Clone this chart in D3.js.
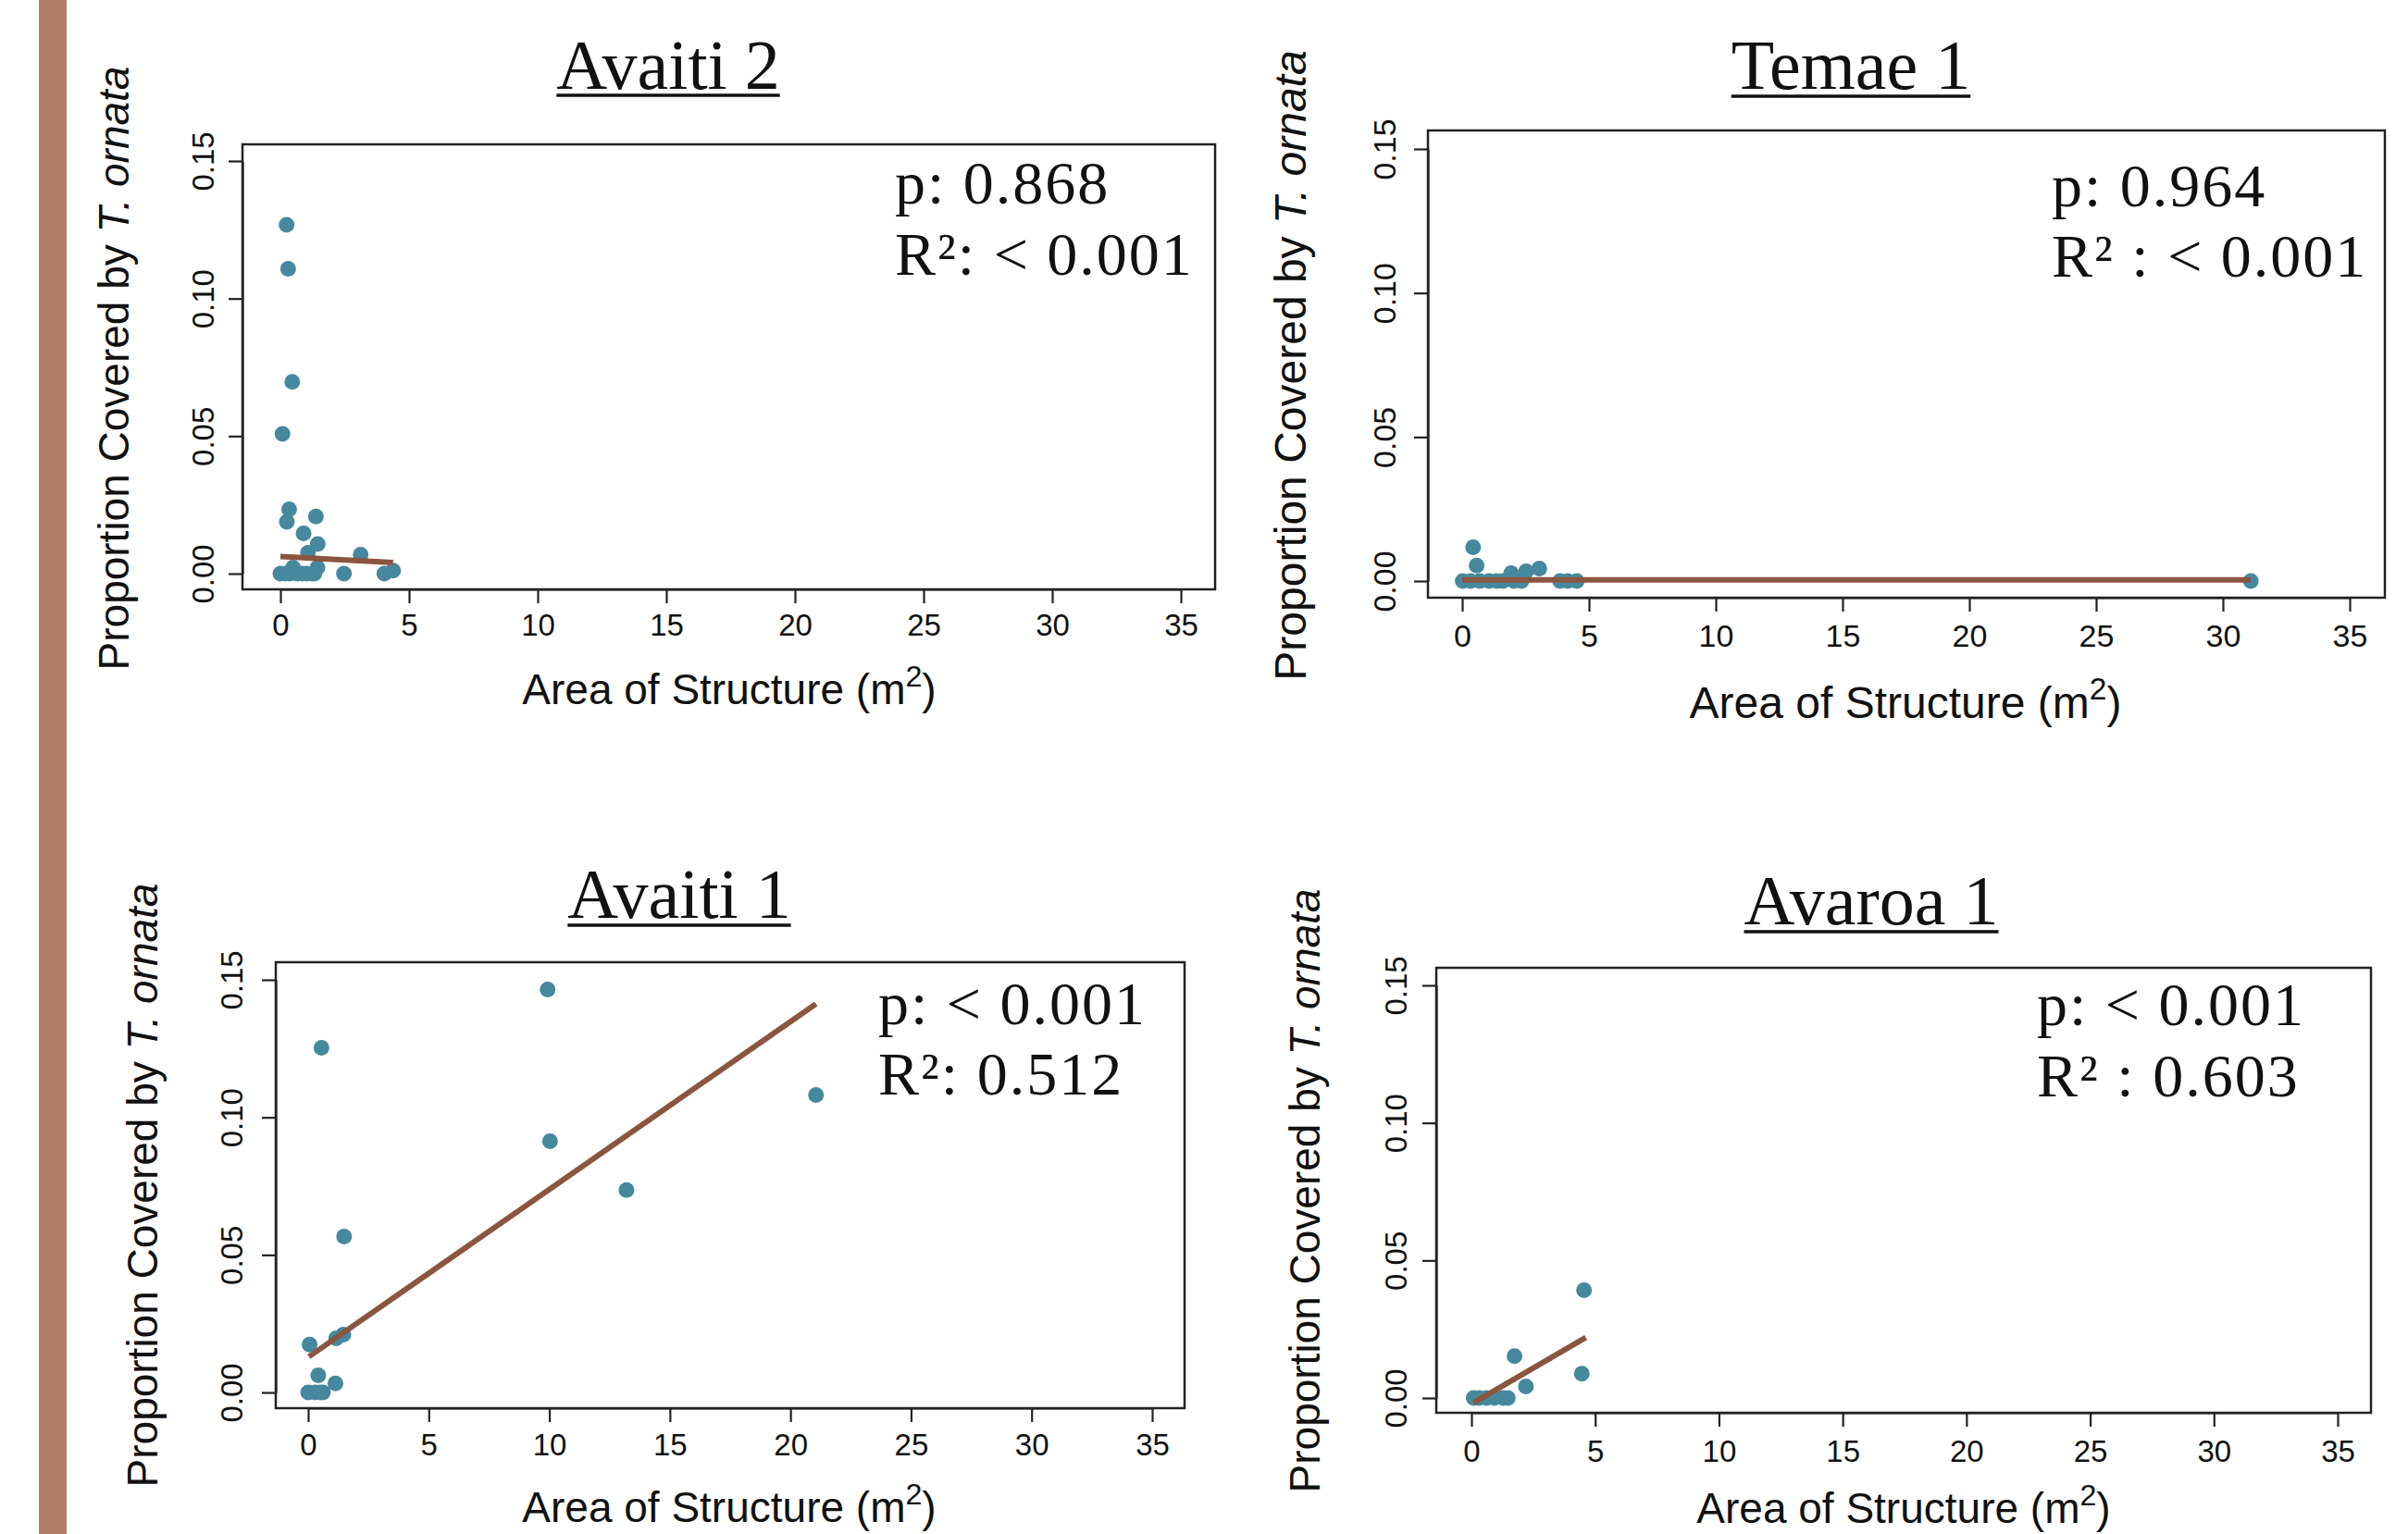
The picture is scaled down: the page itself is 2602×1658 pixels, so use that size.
<!DOCTYPE html>
<html>
<head>
<meta charset="utf-8">
<script src="https://cdn.jsdelivr.net/npm/d3@7"></script>
<style>
    body { margin: 0; background: #fff; }
    svg { display: block; }
    .tick text { font-family: "Liberation Sans", Arial, sans-serif; fill: #111; }
</style>
</head>
<body>
<div id="chart"></div>
<script>
// site names, in drawing order
var sites = ["Avaiti 2", "Temae 1", "Avaiti 1", "Avaroa 1"];

// [area m2, proportion covered]
var avaiti2Points = [
    [0.24, 0.1268], [0.30, 0.1108], [0.46, 0.0697], [0.08, 0.0508], [0.34, 0.0234],
    [0.25, 0.0188], [1.38, 0.0208], [0.90, 0.0146], [1.45, 0.0108], [1.07, 0.0076],
    [3.12, 0.0069], [0.49, 0.0022], [1.44, 0.0022], [4.38, 0.0011], [4.04, 0],
    [2.47, 0], [0, 0], [0.18, 0], [0.36, 0], [0.66, 0], [0.84, 0], [1.02, 0],
    [1.22, 0], [1.32, 0]
];
var temae1Points = [
    [0.43, 0.0117], [0.57, 0.0054], [1.93, 0.0027], [2.52, 0.0034], [3.04, 0.0043],
    [0.02, 0], [0.33, 0], [0.69, 0], [1.06, 0], [1.36, 0], [1.61, 0], [2.04, 0],
    [2.34, 0], [3.86, 0], [4.16, 0], [4.52, 0], [31.1, 0]
];
var avaiti1Points = [
    [9.93, 0.1465], [0.55, 0.1253], [21.06, 0.1081], [10.03, 0.0913], [13.2, 0.0736],
    [1.49, 0.0567], [0.06, 0.0174], [1.16, 0.0197], [1.46, 0.0210], [0.42, 0.0062],
    [1.13, 0.0033], [0, 0], [0.29, 0], [0.5, 0], [0.61, 0]
];
var avaroa1Points = [
    [4.55, 0.0392], [1.74, 0.0152], [4.46, 0.0088], [2.2, 0.0042], [0.09, 0],
    [0.31, 0], [0.61, 0], [0.92, 0], [1.28, 0], [1.47, 0]
];

// fitted lines: [from x, to x, intercept, slope]
var avaiti2Fit = [0, 4.38, 0.0062, -0.0005];
var temae1Fit = [0, 31.1, 0.0004, 0];
var avaiti1Fit = [0.03, 21.06, 0.0128, 0.0061];
var avaroa1Fit = [0.09, 4.62, -0.0022, 0.00523];

// p and R2 labels
var pLabels = ["p: 0.868", "p: 0.964", "p: < 0.001", "p: < 0.001"];
var r2Labels = ["R\u00b2: < 0.001", "R\u00b2 : < 0.001", "R\u00b2: 0.512", "R\u00b2 : 0.603"];

var xTicks = [0, 5, 10, 15, 20, 25, 30, 35];
var yTicks = [0, 0.05, 0.10, 0.15];
var yTickLabels = ["0.00", "0.05", "0.10", "0.15"];

var allPoints = [avaiti2Points, temae1Points, avaiti1Points, avaroa1Points];
var allFits = [avaiti2Fit, temae1Fit, avaiti1Fit, avaroa1Fit];

var width = 2602;
var height = 1658;
var pointColor = "#46889d";
var lineColor = "#8a5640";
var barColor = "#b07d67";

// where each panel sits on the page
var layout = [
    { box: [262, 156, 1313, 637], x0: 303, x35: 1276, y0: 620, y15: 174,
      titleX: 722, titleY: 96, ulY: 103, statX: 967, pY: 220, rY: 297,
      yLabX: 231, xLabY: 687, xTitleX: 788, xTitleY: 761, yTitleX: 139, yTitleY: 398, axFont: 46, tkFont: 33 },
    { box: [1543, 141, 2577, 646], x0: 1580, x35: 2539, y0: 628, y15: 161,
      titleX: 2000, titleY: 96, ulY: 104, statX: 2217, pY: 223, rY: 299,
      yLabX: 1508, xLabY: 699, xTitleX: 2059, xTitleY: 776, yTitleX: 1411, yTitleY: 395, axFont: 48, tkFont: 34 },
    { box: [298, 1040, 1280, 1522], x0: 333, x35: 1245, y0: 1505, y15: 1059,
      titleX: 734, titleY: 992, ulY: 1000, statX: 949, pY: 1107, rY: 1183,
      yLabX: 262, xLabY: 1573, xTitleX: 788, xTitleY: 1645, yTitleX: 170, yTitleY: 1281, axFont: 46, tkFont: 33 },
    { box: [1552, 1046, 2562, 1527], x0: 1590, x35: 2526, y0: 1511, y15: 1065,
      titleX: 2022, titleY: 999, ulY: 1007, statX: 2201, pY: 1108, rY: 1185,
      yLabX: 1520, xLabY: 1580, xTitleX: 2057, xTitleY: 1646, yTitleX: 1426, yTitleY: 1287, axFont: 46, tkFont: 33 }
];

var svg = d3.select("#chart").append("svg")
    .attr("width", width)
    .attr("height", height);

svg.append("rect")
    .attr("width", width)
    .attr("height", height)
    .attr("fill", "#fff");

// slide accent bar on the left
svg.append("rect")
    .attr("x", 42)
    .attr("y", 0)
    .attr("width", 30)
    .attr("height", height)
    .attr("fill", barColor);

var drawPanel = function(i) {
    var L = layout[i];
    var g = svg.append("g").attr("class", "panel");

    var x = d3.scaleLinear().domain([0, 35]).range([L.x0, L.x35]);
    var y = d3.scaleLinear().domain([0, 0.15]).range([L.y0, L.y15]);

    // title, underlined
    var title = g.append("text")
        .attr("x", L.titleX)
        .attr("y", L.titleY)
        .attr("text-anchor", "middle")
        .style("font-family", "'Liberation Serif', 'Times New Roman', serif")
        .style("font-size", "76px")
        .attr("fill", "#111")
        .text(sites[i]);
    var bb = title.node().getBBox();
    g.append("line")
        .attr("x1", bb.x)
        .attr("x2", bb.x + bb.width)
        .attr("y1", L.ulY)
        .attr("y2", L.ulY)
        .attr("stroke", "#111")
        .attr("stroke-width", 3.5);

    // axes
    var xAxis = g.append("g")
        .attr("transform", "translate(0," + L.box[3] + ")")
        .call(d3.axisBottom(x).tickValues(xTicks).tickSize(15).tickSizeOuter(0));
    xAxis.selectAll("text")
        .attr("y", L.xLabY - L.box[3])
        .attr("dy", 0)
        .style("font-size", L.tkFont + "px");

    var yAxis = g.append("g")
        .attr("transform", "translate(" + L.box[0] + ",0)")
        .call(d3.axisLeft(y).tickValues(yTicks).tickSize(15).tickSizeOuter(0)
            .tickFormat(function(d, k) { return yTickLabels[k]; }));
    yAxis.selectAll("text")
        .attr("x", 0)
        .attr("dy", 0)
        .attr("text-anchor", "middle")
        .attr("transform", "translate(" + (L.yLabX - L.box[0]) + ",0) rotate(-90)")
        .style("font-size", L.tkFont + "px");

    [xAxis, yAxis].forEach(function(a) {
        a.selectAll("line, path").attr("stroke", "#222").attr("stroke-width", 2.2);
    });

    // plot box
    g.append("rect")
        .attr("x", L.box[0])
        .attr("y", L.box[1])
        .attr("width", L.box[2] - L.box[0])
        .attr("height", L.box[3] - L.box[1])
        .attr("fill", "none")
        .attr("stroke", "#222")
        .attr("stroke-width", 2.5);

    // axis titles
    var xt = g.append("text")
        .attr("x", L.xTitleX)
        .attr("y", L.xTitleY)
        .attr("text-anchor", "middle")
        .style("font-family", "'Liberation Sans', Arial, sans-serif")
        .style("font-size", L.axFont + "px")
        .attr("fill", "#111");
    xt.append("tspan").text("Area of Structure (m");
    xt.append("tspan").attr("dy", -L.axFont * 0.42).style("font-size", (L.axFont * 0.7) + "px").text("2");
    xt.append("tspan").attr("dy", L.axFont * 0.42).text(")");

    var yt = g.append("text")
        .attr("transform", "translate(" + L.yTitleX + "," + L.yTitleY + ") rotate(-90)")
        .attr("text-anchor", "middle")
        .style("font-family", "'Liberation Sans', Arial, sans-serif")
        .style("font-size", L.axFont + "px")
        .attr("fill", "#111");
    yt.append("tspan").text("Proportion Covered by ");
    yt.append("tspan").style("font-style", "italic").text("T. ornata");

    // points
    g.selectAll(".dot")
        .data(allPoints[i])
        .enter()
        .append("circle")
        .attr("class", "dot")
        .attr("cx", function(d) { return x(d[0]); })
        .attr("cy", function(d) { return y(d[1]); })
        .attr("r", 8.5)
        .attr("fill", pointColor);

    // fitted line
    var f = allFits[i];
    g.append("line")
        .attr("x1", x(f[0]))
        .attr("y1", y(f[2] + f[3] * f[0]))
        .attr("x2", x(f[1]))
        .attr("y2", y(f[2] + f[3] * f[1]))
        .attr("stroke", lineColor)
        .attr("stroke-width", 6);

    // stats
    [[pLabels[i], L.pY], [r2Labels[i], L.rY]].forEach(function(s) {
        g.append("text")
            .attr("x", L.statX)
            .attr("y", s[1])
            .style("font-family", "'Liberation Serif', 'Times New Roman', serif")
            .style("font-size", "66px")
            .style("letter-spacing", "2px")
            .attr("fill", "#111")
            .text(s[0]);
    });
};

d3.range(0, 4).forEach(drawPanel);
</script>
</body>
</html>
